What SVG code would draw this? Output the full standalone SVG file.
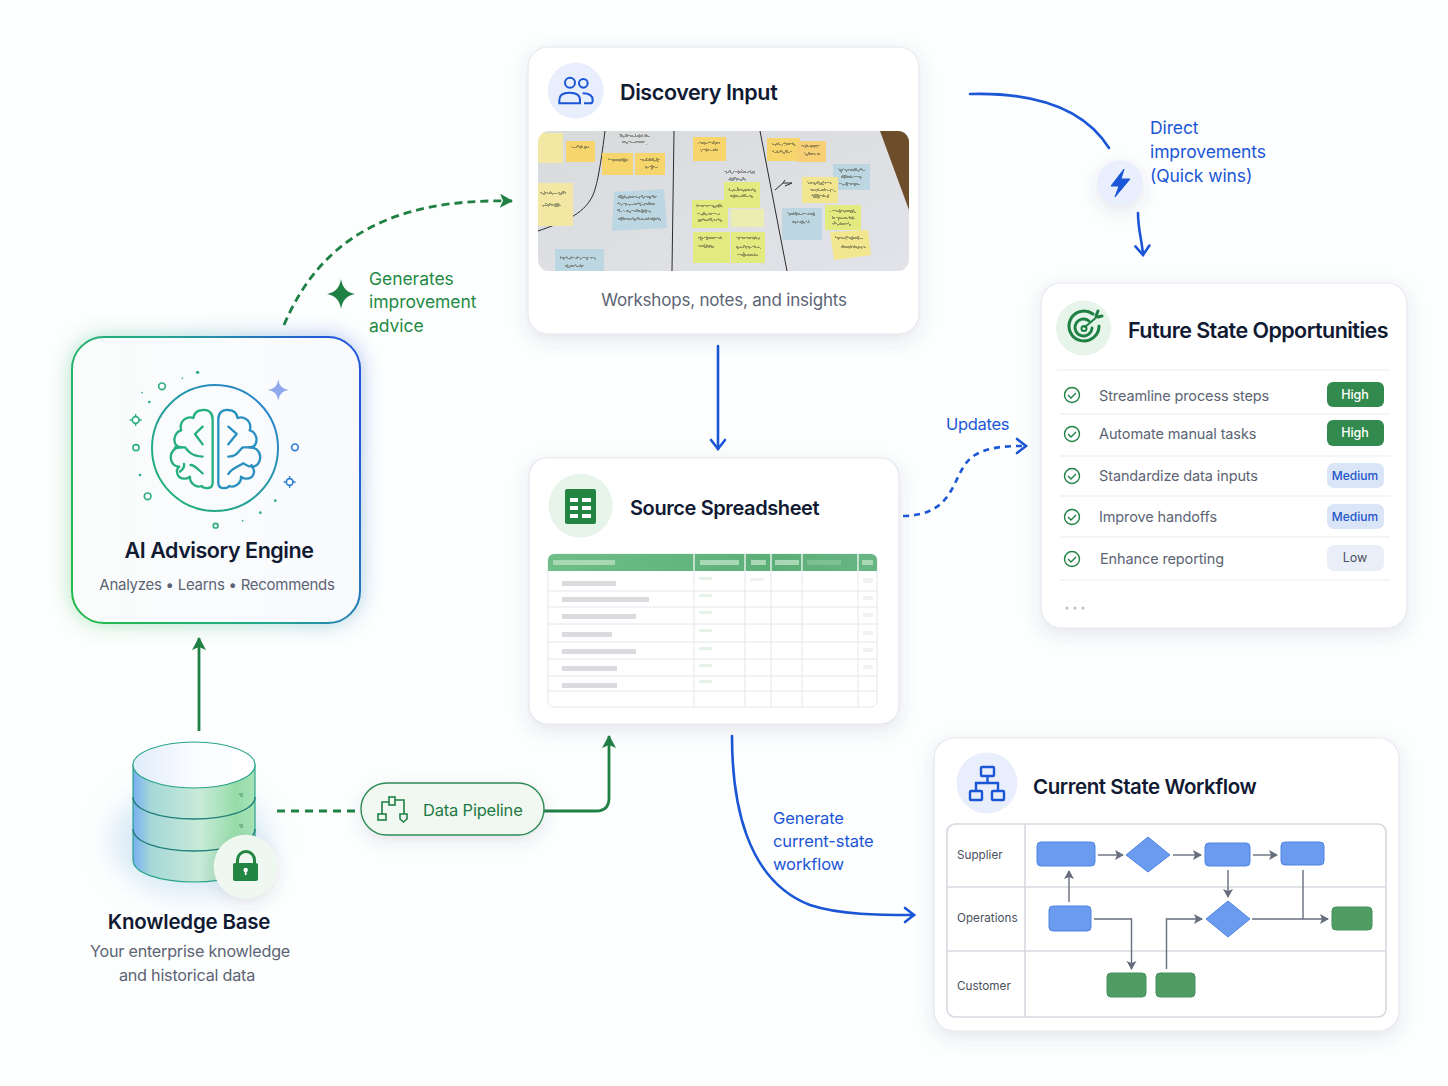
<svg xmlns="http://www.w3.org/2000/svg" width="1448" height="1086" viewBox="0 0 1448 1086">
<style>
text{font-family:Inter,"Liberation Sans",sans-serif}
.t{font-weight:600;fill:#111a33}
.s{fill:#5c6474}
.b{fill:#1a56d6;font-size:17.5px;letter-spacing:-.1px}
.c{fill:#1a56d6;font-size:16.5px;letter-spacing:-.1px}
.g{fill:#1f8a45;font-size:17.5px;letter-spacing:-.05px}
.card{fill:#fff;stroke:#e4e7ee;stroke-width:1.2;filter:url(#sh)}
.cb{fill:none;stroke:#1a56d6;stroke-width:2.6;stroke-linecap:round}
.cg{fill:none;stroke:#1f8044;stroke-width:2.8}
.tl{stroke:#e3e6eb;stroke-width:1;fill:none}
.bar{fill:#d9dbdf}
.fl{fill:none;stroke:#666d7c;stroke-width:1.4;marker-end:url(#fa)}
.fn{fill:none;stroke:#666d7c;stroke-width:1.4}
.bx{fill:#6b9bef;stroke:#4f83e6;stroke-width:1}
.gx{fill:#4f9d64;stroke:#468f5a;stroke-width:1}
.ck{fill:none;stroke:#1f8044;stroke-width:1.4}
.it{font-size:14.5px;fill:#5c6474;letter-spacing:-.12px}
.pt{font-size:12.5px;text-anchor:middle;font-weight:500}
.pm{font-size:12px;text-anchor:middle;font-weight:500;fill:#1f56c8}
.ln{stroke:#e9ebf0;stroke-width:1}
.lb{font-size:11.7px;fill:#4a5160}
.n1{fill:#f2e78e}.n2{fill:#f6d56c}.n3{fill:#f2e8a4}.n4{fill:#e3ea80}.n5{fill:#bdd7e2}.n6{fill:#ecedb0}
.sc{fill:none;stroke:#3f4438;stroke-width:.9;filter:url(#wob)}
.bl{fill:none;stroke-width:7;stroke-linecap:round;stroke-linejoin:round}
.o1{fill:#fff;stroke:#2fae84;stroke-width:5}
.o2{fill:#fff;stroke:#2f7fd6;stroke-width:5}
</style>
<defs>
<filter id="sh" x="-15%" y="-15%" width="130%" height="130%"><feDropShadow dx="0" dy="6" stdDeviation="9" flood-color="#3c4a70" flood-opacity=".13"/></filter>
<filter id="sh2" x="-60%" y="-80%" width="220%" height="280%"><feDropShadow dx="0" dy="6" stdDeviation="8" flood-color="#3c4a70" flood-opacity=".13"/></filter>
<filter id="bl" x="-30%" y="-30%" width="160%" height="160%"><feGaussianBlur stdDeviation="11"/></filter>
<filter id="bl2" x="-50%" y="-50%" width="200%" height="200%"><feGaussianBlur stdDeviation="14"/></filter>
<filter id="soft"><feGaussianBlur stdDeviation=".45"/></filter>
<filter id="wob" x="-5%" y="-5%" width="110%" height="110%"><feTurbulence type="fractalNoise" baseFrequency=".35" numOctaves="2" seed="4"/><feDisplacementMap in="SourceGraphic" scale="5"/></filter>
<linearGradient id="ai" x1="0" y1=".7" x2="1" y2=".3"><stop offset="0" stop-color="#25b850"/><stop offset=".5" stop-color="#25a890"/><stop offset="1" stop-color="#2258d8"/></linearGradient>
<linearGradient id="ai2" x1="0" y1="0" x2="1" y2="0"><stop offset="0" stop-color="#f9fcfb"/><stop offset="1" stop-color="#f9fafe"/></linearGradient>
<linearGradient id="cir" x1="0" y1="1" x2="1" y2="0"><stop offset="0" stop-color="#25b86c"/><stop offset="1" stop-color="#2a7fd8"/></linearGradient>
<linearGradient id="cy" x1="0" y1="0" x2="1" y2="0"><stop offset="0" stop-color="#78aef2"/><stop offset=".15" stop-color="#a6d8d8"/><stop offset=".55" stop-color="#c8ead8"/><stop offset=".85" stop-color="#96dca8"/><stop offset="1" stop-color="#a8e2b8"/></linearGradient>
<linearGradient id="cyt" x1="0" y1="0" x2="1" y2="0"><stop offset="0" stop-color="#e0ecfb"/><stop offset=".5" stop-color="#fafcff"/><stop offset="1" stop-color="#fff"/></linearGradient>
<linearGradient id="ph" x1="0" y1="0" x2="1" y2="1"><stop offset="0" stop-color="#d8dbdc"/><stop offset="1" stop-color="#e2e3e9"/></linearGradient>
<linearGradient id="hd" x1="0" y1="0" x2="1" y2="0"><stop offset="0" stop-color="#6fbe88"/><stop offset=".7" stop-color="#5cae78"/><stop offset="1" stop-color="#68b684"/></linearGradient>
<clipPath id="pc"><rect x="538" y="131" width="371" height="140" rx="11"/></clipPath>
<clipPath id="hc"><path d="M548 571V560a6 6 0 0 1 6-6H871a6 6 0 0 1 6 6V571Z"/></clipPath>
<marker id="ab" markerUnits="userSpaceOnUse" markerWidth="20" markerHeight="20" refX="13" refY="9" orient="auto"><path d="M4 2L13 9L4 16" fill="none" stroke="#1a56d6" stroke-width="2.6" stroke-linecap="round"/></marker>
<marker id="ag" markerUnits="userSpaceOnUse" markerWidth="20" markerHeight="20" refX="13" refY="8" orient="auto"><path d="M1 1L14 8L1 15L4 8Z" fill="#1f8044"/></marker>
<marker id="fa" markerUnits="userSpaceOnUse" markerWidth="12" markerHeight="12" refX="8" refY="5" orient="auto"><path d="M0 0L9 5L0 10L2 5Z" fill="#666d7c"/></marker>
</defs>
<rect width="1448" height="1086" fill="#fdfefe"/>

<g id="connectors">
<path class="cb" d="M970 94C1040 92 1085 110 1109 148"/>
<path class="cb" marker-end="url(#ab)" d="M1138 213C1138 230 1142 240 1143 255"/>
<path class="cg" stroke-dasharray="8 5" marker-end="url(#ag)" d="M284 325C320 240 390 198 512 201"/>
<path class="cb" marker-end="url(#ab)" d="M718 346V449"/>
<path class="cb" style="stroke-linecap:butt" stroke-dasharray="6 5" marker-end="url(#ab)" d="M903 516C960 515 950 470 975 455C990 446 1010 446 1026 446"/>
<path class="cb" marker-end="url(#ab)" d="M732 736C732 800 745 880 810 905C840 915 880 915 914 915"/>
<path class="cg" marker-end="url(#ag)" d="M199 731V638"/>
<path class="cg" stroke-dasharray="8 6" d="M277 811H355"/>
<path class="cg" marker-end="url(#ag)" d="M544 811H596Q609 811 609 798V736"/>
</g>

<g id="quick-wins">
<circle cx="1120" cy="183" r="23" fill="#e9effc" filter="url(#sh2)"/>
<path d="M1124 169L1111 186H1119L1115 197L1130 179H1121Z" fill="#1a56d6" stroke="#1a56d6" stroke-width="1" stroke-linejoin="round"/>
<text class="b" x="1150" y="134">Direct</text><text class="b" x="1150" y="158">improvements</text><text class="b" x="1150" y="182">(Quick wins)</text>
</g>
<g id="advice-label">
<path d="M341 279Q343 292 355 294Q343 296 341 309Q339 296 327 294Q339 292 341 279Z" fill="#1f8044"/>
<text class="g" x="369" y="285">Generates</text><text class="g" x="369" y="308">improvement</text><text class="g" x="369" y="332">advice</text>
</g>
<g id="updates-label"><text class="c" x="946" y="430" style="letter-spacing:-.3px">Updates</text></g>
<g id="generate-label"><text class="c" x="773" y="824">Generate</text><text class="c" x="773" y="847">current-state</text><text class="c" x="773" y="870">workflow</text></g>

<g id="discovery-input">
<rect class="card" x="528" y="47" width="391" height="287" rx="20"/>
<circle cx="575.7" cy="90.7" r="28" fill="#e8eefb"/>
<g transform="translate(530 50) scale(.3333)" fill="none" stroke="#1a56d6" stroke-width="6">
<circle cx="120" cy="98" r="15"/><circle cx="160" cy="100" r="13"/>
<path d="M88 160V150Q88 128 118 128Q150 128 150 150V160Z"/><path d="M158 130Q188 130 188 150V152Q188 160 180 160H162"/>
</g>
<text class="t" x="620" y="100" font-size="21.5" letter-spacing="-.4">Discovery Input</text>
<g clip-path="url(#pc)">
<g filter="url(#soft)">
<rect x="538" y="131" width="371" height="140" fill="url(#ph)"/>
<path d="M880 131H909V210Z" fill="#6e4e2a"/>
<g stroke="#2b2b2b" stroke-width="1" fill="none"><path d="M605 131C600 170 597 185 593 195C585 212 570 220 538 231"/><path d="M674 131L672 271"/><path d="M760 131L787 271"/></g>
<rect class="n3" x="538" y="133" width="25" height="30"/><rect class="n2" x="566" y="141" width="29" height="21"/>
<rect class="n2" x="602" y="153" width="31" height="22"/><rect class="n2" x="635" y="153" width="30" height="22"/>
<path class="n5" d="M614 192L664 189L667 228L612 231Z"/><rect class="n3" x="538" y="183" width="35" height="43"/>
<rect class="n5" x="555" y="249" width="49" height="24"/><rect class="n2" x="693" y="137" width="33" height="24"/>
<rect class="n4" x="724" y="182" width="36" height="26"/><rect class="n4" x="692" y="200" width="36" height="28"/>
<rect class="n6" x="731" y="209" width="33" height="18"/><rect class="n4" x="693" y="232" width="37" height="31"/>
<rect class="n4" x="731" y="232" width="34" height="31"/><rect class="n2" x="767" y="138" width="33" height="23"/>
<rect fill="#f7cf74" x="797" y="141" width="29" height="21"/><rect class="n5" x="833" y="164" width="37" height="26"/>
<rect class="n1" x="802" y="177" width="36" height="26"/><rect class="n5" x="782" y="208" width="40" height="32"/>
<rect class="n4" x="825" y="205" width="36" height="25"/><path class="n1" d="M830 232L868 230L871 255L834 260Z"/>
<path class="sc" d="M620 136H650M622 142H645M571 147H590M607 160H628M640 160H660M645 167H658M618 197H658M618 204H655M618 211H650M618 219H660M540 193H566M542 205H560M560 258H595M565 266H585M698 143H720M700 150H718M725 172H755M728 179H746M728 190H755M730 196H752M696 206H722M697 214H720M697 220H722M698 238H722M698 246H714M737 238H760M736 247H760M738 255H758M772 144H795M772 152H792M802 146H820M805 154H820M838 170H865M840 177H862M840 184H860M808 183H832M810 190H834M812 196H830M788 214H815M792 222H810M830 211H855M832 218H855M832 224H850M836 238H862M840 247H865"/>
<path fill="none" stroke="#2b2b2b" stroke-width="1" d="M775 190L783 183H792L785 186M783 183L785 180"/>
</g>
</g>
<text x="724" y="306" text-anchor="middle" font-size="17" letter-spacing="-.2" class="s">Workshops, notes, and insights</text>
</g>

<g id="source-spreadsheet">
<rect class="card" x="529" y="458" width="370" height="266" rx="18"/>
<circle cx="580.6" cy="505.7" r="32" fill="#e6f4ea"/>
<rect x="565" y="489" width="31" height="35" rx="2" fill="#228542"/>
<path fill="#fff" d="M570 498h8v4h-8zM582 498h9v4h-9zM570 506h8v4h-8zM582 506h9v4h-9zM570 514h8v4h-8zM582 514h9v4h-9z"/>
<text class="t" x="630" y="515" font-size="20" letter-spacing="-.4">Source Spreadsheet</text>
<rect x="548" y="554" width="329" height="153" rx="6" fill="#fff" stroke="#e3e6eb"/>
<g clip-path="url(#hc)"><rect x="548" y="554" width="329" height="17" fill="url(#hd)"/></g>
<path d="M694 554V571M745 554V571M771 554V571M802 554V571M858 554V571" stroke="#fff" stroke-width="1.2"/>
<path class="tl" d="M694 571V707M745 571V707M771 571V707M802 571V707M858 571V707M548 591H877M548 607H877M548 624H877M548 642H877M548 659H877M548 676H877M548 691H877"/>
<g fill="#a8d8b4"><rect x="553" y="560" width="62" height="5"/><rect x="700" y="560" width="39" height="5"/><rect x="751" y="560" width="15" height="5"/><rect x="775" y="560" width="24" height="5"/><rect x="807" y="560" width="34" height="5" opacity=".4"/><rect x="862" y="560" width="11" height="5"/></g>
<rect class="bar" x="562" y="581" width="54" height="5"/><rect class="bar" x="562" y="597" width="87" height="5"/><rect class="bar" x="562" y="614" width="74" height="5"/><rect class="bar" x="562" y="632" width="50" height="5"/><rect class="bar" x="562" y="649" width="74" height="5"/><rect class="bar" x="562" y="666" width="55" height="5"/><rect class="bar" x="562" y="683" width="55" height="5"/>
<g fill="#e4f2e8"><rect x="699" y="577" width="13" height="3"/><rect x="699" y="594" width="13" height="3"/><rect x="699" y="611" width="13" height="3"/><rect x="699" y="629" width="13" height="3"/><rect x="699" y="647" width="13" height="3"/><rect x="699" y="664" width="13" height="3"/><rect x="699" y="680" width="13" height="3"/></g>
<g fill="#f1f2f4"><rect x="750" y="578" width="14" height="3"/><rect x="863" y="578" width="10" height="5"/><rect x="863" y="596" width="10" height="4"/><rect x="863" y="613" width="10" height="4"/><rect x="863" y="631" width="10" height="4"/><rect x="863" y="648" width="10" height="4"/><rect x="863" y="665" width="10" height="4"/></g>
</g>

<g id="future-state-opportunities">
<rect class="card" x="1041" y="283" width="366" height="345" rx="20"/>
<circle cx="1083.5" cy="328" r="27.5" fill="#e6f4ea"/>
<g fill="none" stroke="#1f8044" stroke-linecap="round">
<path stroke-width="3" d="M1093 314A15 15 0 1 0 1099 326"/>
<path stroke-width="2.8" d="M1089 321A8.5 8.5 0 1 0 1092 328"/>
<circle cx="1084" cy="328.5" r="2.5" stroke-width="2"/>
<path stroke-width="2" d="M1085 327L1098 316"/>
<path stroke-width="3" d="M1096 316L1098 311M1098 317L1102 316"/>
</g>
<text class="t" x="1128" y="338" font-size="21.5" letter-spacing="-.55">Future State Opportunities</text>
<path class="ln" d="M1057 370H1390M1060 414H1390M1060 456H1390M1060 496H1390M1060 537H1390M1060 580H1390"/>
<g id="checks">
<circle class="ck" cx="1072" cy="395" r="7.5"/><path class="ck" d="M1068 395l3 3l5-5"/>
<circle class="ck" cx="1072" cy="434" r="7.5"/><path class="ck" d="M1068 434l3 3l5-5"/>
<circle class="ck" cx="1072" cy="476" r="7.5"/><path class="ck" d="M1068 476l3 3l5-5"/>
<circle class="ck" cx="1072" cy="517" r="7.5"/><path class="ck" d="M1068 517l3 3l5-5"/>
<circle class="ck" cx="1072" cy="559" r="7.5"/><path class="ck" d="M1068 559l3 3l5-5"/>
</g>
<text class="it" x="1099" y="401">Streamline process steps</text>
<text class="it" x="1099" y="439">Automate manual tasks</text>
<text class="it" x="1099" y="481">Standardize data inputs</text>
<text class="it" x="1099" y="522">Improve handoffs</text>
<text class="it" x="1100" y="564">Enhance reporting</text>
<rect x="1327" y="382" width="57" height="25" rx="6" fill="#338a4e"/><text class="pt" x="1355" y="399" fill="#fff">High</text>
<rect x="1327" y="420" width="57" height="26" rx="6" fill="#338a4e"/><text class="pt" x="1355" y="437" fill="#fff">High</text>
<rect x="1327" y="463" width="57" height="25" rx="7" fill="#dbe5f8"/><text class="pm" x="1355" y="480">Medium</text>
<rect x="1327" y="504" width="57" height="25" rx="7" fill="#dbe5f8"/><text class="pm" x="1355" y="521">Medium</text>
<rect x="1327" y="545" width="57" height="26" rx="7" fill="#eaeef8"/><text class="pt" x="1355" y="562" fill="#4a5160" style="font-weight:400">Low</text>
<g fill="#bfc3ca"><circle cx="1067" cy="608" r="1.6"/><circle cx="1075" cy="608" r="1.6"/><circle cx="1083" cy="608" r="1.6"/></g>
</g>

<g id="current-state-workflow">
<rect class="card" x="934" y="738" width="465" height="293" rx="20"/>
<circle cx="987" cy="783" r="30.5" fill="#e8eefb"/>
<g fill="none" stroke="#1a56d6" stroke-width="2.4"><rect x="981" y="767" width="13" height="9" rx="1"/><rect x="970" y="791" width="12" height="9" rx="1"/><rect x="992" y="791" width="12" height="9" rx="1"/><path d="M987.5 776V783M976 791V783H998V791"/></g>
<text class="t" x="1033" y="794" font-size="20.5" letter-spacing="-.43">Current State Workflow</text>
<rect x="947" y="824" width="439" height="193" rx="8" fill="#fff" stroke="#d6d9e0" stroke-width="1.6"/>
<path d="M1025 824V1017M947 887H1386M947 951H1386" stroke="#d6d9e0" stroke-width="1.6"/>
<text class="lb" x="957" y="859">Supplier</text><text class="lb" x="957" y="922">Operations</text><text class="lb" x="957" y="990">Customer</text>
<rect class="bx" x="1037" y="842" width="58" height="24" rx="4"/>
<path class="bx" d="M1148 837L1170 855L1148 872L1126 855Z"/>
<rect class="bx" x="1205" y="843" width="45" height="23" rx="4"/>
<rect class="bx" x="1281" y="842" width="43" height="23" rx="4"/>
<rect class="bx" x="1049" y="906" width="42" height="25" rx="4"/>
<path class="bx" d="M1228 901L1250 919L1228 937L1206 919Z"/>
<rect class="gx" x="1332" y="907" width="40" height="23" rx="4"/>
<rect class="gx" x="1107" y="973" width="39" height="24" rx="4"/>
<rect class="gx" x="1156" y="973" width="39" height="24" rx="4"/>
<path class="fl" d="M1098 855H1123"/><path class="fl" d="M1173 855H1201"/><path class="fl" d="M1253 855H1277"/>
<path class="fl" d="M1069 902V871"/><path class="fl" d="M1228 870V897"/>
<path class="fn" d="M1303 870V919"/><path class="fl" d="M1252 919H1328"/>
<path class="fl" d="M1094 919H1131.5V969"/><path class="fl" d="M1166.5 969V919H1202"/>
</g>

<g id="ai-advisory-engine">
<rect x="72" y="337" width="288" height="286" rx="32" fill="url(#ai)" opacity=".4" filter="url(#bl)"/>
<rect x="72" y="337" width="288" height="286" rx="32" fill="url(#ai2)" stroke="url(#ai)" stroke-width="2"/>
<circle cx="215" cy="448" r="63" fill="none" stroke="url(#cir)" stroke-width="2"/>
<g transform="translate(60 330) scale(.3333)">
<g class="bl" stroke="#25ae80">
<path d="M458 268C458 248 445 238 428 240C412 241 402 250 400 264C382 258 362 270 362 292C362 296 362 298 364 301C345 305 338 330 348 345C352 350 360 352 366 352C340 350 328 372 334 392C338 404 348 410 358 410C345 420 350 448 376 446C382 446 386 444 390 440C388 460 410 475 425 468C430 476 458 480 458 458Z"/>
<path d="M428 290L405 312L428 343M345 352H375C385 365 395 378 428 380M372 402C375 415 365 420 360 425M392 405C405 405 415 420 428 430"/>
</g>
<g class="bl" stroke="#2a90c0">
<path transform="translate(933 0) scale(-1 1)" d="M458 268C458 248 445 238 428 240C412 241 402 250 400 264C382 258 362 270 362 292C362 296 362 298 364 301C345 305 338 330 348 345C352 350 360 352 366 352C340 350 328 372 334 392C338 404 348 410 358 410C345 420 350 448 376 446C382 446 386 444 390 440C388 460 410 475 425 468C430 476 458 480 458 458Z"/>
<path d="M505 290L530 312L505 343M505 380C530 380 535 365 548 352H580M505 432C515 415 535 410 550 400C560 405 570 415 575 405"/>
</g>
<g fill="#2aa890"><circle cx="413" cy="127" r="5"/><circle cx="367" cy="145" r="2.5"/><circle cx="246" cy="188" r="2.5"/><circle cx="268" cy="216" r="4"/><circle cx="240" cy="435" r="4"/><circle cx="548" cy="572" r="2.5"/><circle cx="601" cy="548" r="4"/><circle cx="646" cy="512" r="4"/></g>
<path d="M227 252V288M209 270H245" stroke="#2fae84" stroke-width="4"/><path d="M689 438V474M671 456H707" stroke="#2f7fd6" stroke-width="4"/>
<circle class="o1" cx="306" cy="169" r="10"/><circle class="o1" cx="227" cy="270" r="10"/><circle class="o1" cx="228" cy="353" r="9"/><circle class="o1" cx="263" cy="499" r="10"/><circle class="o1" cx="467" cy="587" r="7"/>
<circle class="o2" cx="689" cy="456" r="10"/><circle class="o2" cx="705" cy="352" r="10"/>
<path d="M655 148Q658 177 687 180Q658 183 655 212Q652 183 623 180Q652 177 655 148Z" fill="#8fa8ee"/>
</g>
<text class="t" x="219" y="558" text-anchor="middle" font-size="21.5" letter-spacing="-.45">AI Advisory Engine</text>
<text class="s" x="217" y="590" text-anchor="middle" font-size="15" letter-spacing="-.27">Analyzes • Learns • Recommends</text>
</g>

<g id="knowledge-base">
<ellipse cx="190" cy="840" rx="78" ry="55" fill="#b8d8f0" opacity=".55" filter="url(#bl2)"/>
<path d="M133 765V860C133 873 160 882 194 882C228 882 255 873 255 860V765Z" fill="url(#cy)" stroke="#2aa58a" stroke-width="1.2"/>
<path d="M133 797C133 810 160 819 194 819C228 819 255 810 255 797M133 829C133 842 160 851 194 851C228 851 255 842 255 829" fill="none" stroke="#1f7f78" stroke-width="1.4"/>
<ellipse cx="194" cy="765" rx="61" ry="23" fill="url(#cyt)" stroke="#2aa58a" stroke-width="1.2"/>
<path d="M239 794h4M240 796h3M239 825h4M240 827h3" stroke="#4f8f70" stroke-width="1"/>
<circle cx="245.7" cy="866.7" r="32" fill="#eef7f0" filter="url(#sh2)"/>
<path d="M237.5 864V860a8.5 8.5 0 0 1 17 0V864" fill="none" stroke="#228542" stroke-width="3"/>
<rect x="233" y="863" width="25" height="18" rx="2" fill="#228542"/>
<circle cx="245.7" cy="870" r="2.2" fill="#fff"/><rect x="244.8" y="870" width="1.8" height="5" fill="#fff"/>
<text class="t" x="189" y="929" text-anchor="middle" font-size="20.5" letter-spacing="-.2">Knowledge Base</text>
<text class="s" x="190" y="957" text-anchor="middle" font-size="16.2" letter-spacing="-.24">Your enterprise knowledge</text>
<text class="s" x="187" y="981" text-anchor="middle" font-size="16.2" letter-spacing="-.24">and historical data</text>
</g>

<g id="data-pipeline">
<rect x="361" y="783" width="183" height="52" rx="26" fill="#f0f8f1" stroke="#2e8b57" stroke-width="1.4" filter="url(#sh2)"/>
<g fill="none" stroke="#1f8044" stroke-width="1.6"><rect x="389" y="797" width="6" height="8"/><rect x="378" y="814" width="8" height="6"/><path d="M400 814H407V819L403.5 822L400 819ZM389 802H382V814M395 800H404V814"/></g>
<text x="423" y="816" font-size="16.5" letter-spacing="-.2" fill="#1f7a42">Data Pipeline</text>
</g>
</svg>
